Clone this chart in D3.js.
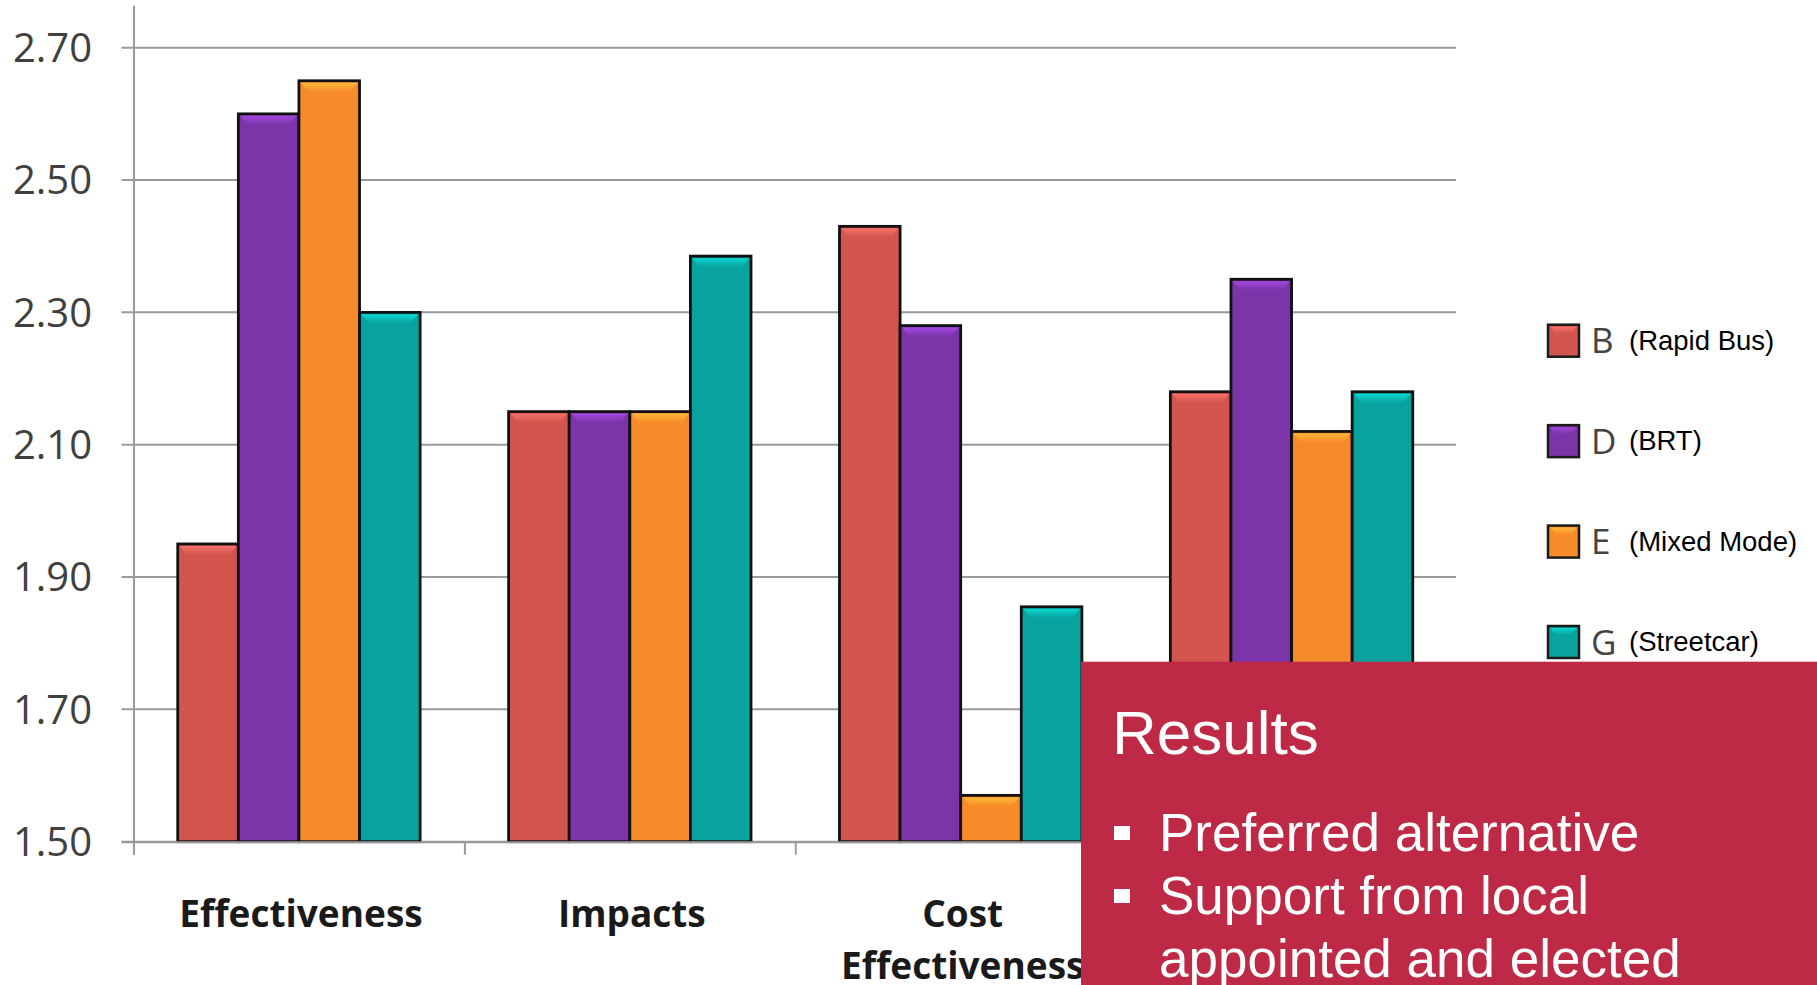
<!DOCTYPE html>
<html>
<head>
<meta charset="utf-8">
<script src="https://cdn.jsdelivr.net/npm/d3@7"></script>
<style>
  html, body { margin: 0; padding: 0; background: #ffffff; overflow: hidden; }
  svg { display: block; }
</style>
</head>
<body>
<svg id="chart" width="1817" height="985"></svg>
<script>
// ---- data ----
const categories = ["Effectiveness", "Impacts", "Cost Effectiveness", "Feasibility"];
const seriesKeys = ["B", "D", "E", "G"];
const seriesNames = ["(Rapid Bus)", "(BRT)", "(Mixed Mode)", "(Streetcar)"];
const valuesB = [1.95, 2.15, 2.43, 2.18];
const valuesD = [2.60, 2.15, 2.28, 2.35];
const valuesE = [2.65, 2.15, 1.57, 2.12];
const valuesG = [2.30, 2.385, 1.855, 2.18];
const yTicks = [1.50, 1.70, 1.90, 2.10, 2.30, 2.50, 2.70];
const seriesColors = ["#D2554F", "#7B35A8", "#F78B2A", "#08A39E"];
const boxTitle = "Results";
const boxBullets = [["Preferred alternative"], ["Support from local", "appointed and elected"]];

const seriesValues = [valuesB, valuesD, valuesE, valuesG];

const svg = d3.select("#chart");

// ---- scales ----
const x0 = d3.scaleBand().domain(categories).range([133.5, 1457]).paddingInner(0).paddingOuter(0);
const x1 = d3.scaleBand().domain(seriesKeys).range([0, x0.bandwidth()]).paddingInner(0).paddingOuter(0.73);
const y = d3.scaleLinear().domain([1.5, 2.7]).range([841.7, 47.7]);

// ---- gridlines ----
const grid = svg.append("g");
grid.selectAll("line").data(yTicks).join("line")
  .attr("x1", 121.5).attr("x2", 1456)
  .attr("y1", d => y(d)).attr("y2", d => y(d))
  .attr("stroke", "#9a9a9a").attr("stroke-width", 2);

// y tick labels
svg.append("g").selectAll("text").data(yTicks).join("text")
  .attr("x", 92).attr("y", d => y(d)).attr("dy", "0.36em")
  .attr("text-anchor", "end")
  .attr("font-family", "'Open Sans', sans-serif")
  .attr("font-size", 40).attr("fill", "#404040")
  .text(d => d3.format(".2f")(d));

// y axis line
svg.append("line")
  .attr("x1", x0.range()[0] + 0.5).attr("x2", x0.range()[0] + 0.5)
  .attr("y1", y(2.7) - 42).attr("y2", y(1.5) + 13)
  .attr("stroke", "#9a9a9a").attr("stroke-width", 2);

// x axis ticks at band boundaries
svg.append("g").selectAll("line").data(categories).join("line")
  .attr("x1", d => x0(d) + 0.5).attr("x2", d => x0(d) + 0.5)
  .attr("y1", y(1.5)).attr("y2", y(1.5) + 13)
  .attr("stroke", "#9a9a9a").attr("stroke-width", 2);

// ---- bars ----
const defs = svg.append("defs");
seriesColors.forEach((c, i) => {
  const g = defs.append("linearGradient").attr("id", "hl" + i)
    .attr("x1", 0).attr("x2", 0).attr("y1", 0).attr("y2", 1);
  g.append("stop").attr("offset", "0%").attr("stop-color", d3.color(c).brighter(0.9)).attr("stop-opacity", 1);
  g.append("stop").attr("offset", "100%").attr("stop-color", c).attr("stop-opacity", 1);
});

const barData = [];
categories.forEach((cat, ci) => {
  seriesKeys.forEach((k, si) => {
    barData.push({ cat, key: k, si, value: seriesValues[si][ci] });
  });
});

const bars = svg.append("g");
bars.selectAll("rect.bar").data(barData).join("rect")
  .attr("class", "bar")
  .attr("x", d => x0(d.cat) + x1(d.key))
  .attr("y", d => y(d.value))
  .attr("width", x1.bandwidth())
  .attr("height", d => y(1.5) - y(d.value))
  .attr("fill", d => seriesColors[d.si])
  .attr("stroke", "#111").attr("stroke-width", 2.8);

// top bevel highlight
bars.selectAll("path.bevel").data(barData).join("path")
  .attr("class", "bevel")
  .attr("d", d => {
    const bx = x0(d.cat) + x1(d.key), by = y(d.value), w = x1.bandwidth();
    return `M${bx + 2},${by + 2} L${bx + w - 2},${by + 2} L${bx + w - 9},${by + 11} L${bx + 9},${by + 11} Z`;
  })
  .attr("fill", d => `url(#hl${d.si})`).attr("opacity", 0.85);

// x axis line
svg.append("line")
  .attr("x1", 121.5).attr("x2", 1456)
  .attr("y1", y(1.5) + 0.5).attr("y2", y(1.5) + 0.5)
  .attr("stroke", "#9a9a9a").attr("stroke-width", 2);

// x labels
svg.append("g").selectAll("text").data(categories).join("text")
  .attr("x", d => x0(d) + x0.bandwidth() / 2 + 2)
  .attr("y", 927)
  .attr("text-anchor", "middle")
  .attr("font-family", "'Open Sans', sans-serif")
  .attr("font-weight", 700).attr("font-size", 37).attr("fill", "#1a1a1a")
  .each(function(d) {
    const words = d.split(" ");
    const t = d3.select(this);
    if (words.length > 1) {
      words.forEach((w, i) => {
        t.append("tspan").attr("x", x0(d) + x0.bandwidth() / 2 + 2).attr("dy", i === 0 ? 0 : 52).text(w);
      });
    } else {
      t.text(d);
    }
  });

// ---- legend ----
const legendRowY = d3.scalePoint().domain(seriesKeys).range([340.7, 642]);
const leg = svg.append("g");
const rows = leg.selectAll("g").data(seriesKeys).join("g")
  .attr("transform", d => `translate(0,${legendRowY(d)})`);
rows.append("rect")
  .attr("x", 1548).attr("y", -16).attr("width", 31).attr("height", 32)
  .attr("fill", (d, i) => seriesColors[i])
  .attr("stroke", "#1a1a1a").attr("stroke-width", 2.5);
rows.append("path")
  .attr("d", "M1550,-14 L1577,-14 L1571,-7 L1556,-7 Z")
  .attr("fill", (d, i) => `url(#hl${i})`).attr("opacity", 0.85);
rows.append("text")
  .attr("x", 1591).attr("y", 12.5)
  .attr("font-family", "'Open Sans', sans-serif").attr("font-weight", 400)
  .attr("font-size", 35).attr("fill", "#444444")
  .text(d => d);
rows.append("text")
  .attr("x", 1629).attr("y", 9.3)
  .attr("font-family", "'Liberation Sans', Arial, sans-serif")
  .attr("font-size", 27.5).attr("fill", "#000")
  .text((d, i) => seriesNames[i]);

// ---- overlay box ----
const box = svg.append("g");
box.append("rect")
  .attr("x", 1081).attr("y", 661.7).attr("width", 1817 - 1081).attr("height", 985 - 661.7)
  .attr("fill", "#BE2945");
box.append("text")
  .attr("x", 1112).attr("y", 754)
  .attr("font-family", "'Liberation Sans', Arial, sans-serif")
  .attr("font-size", 62).attr("fill", "#ffffff")
  .text(boxTitle);
let lineIdx = 0;
boxBullets.forEach(item => {
  item.forEach((ln, j) => {
    const base = 851 + lineIdx * 63;
    if (j === 0) {
      box.append("rect").attr("x", 1114).attr("y", base - 25).attr("width", 16).attr("height", 14).attr("fill", "#ffffff");
    }
    box.append("text")
      .attr("x", 1159).attr("y", base)
      .attr("font-family", "'Liberation Sans', Arial, sans-serif")
      .attr("font-size", 53).attr("fill", "#ffffff")
      .text(ln);
    lineIdx++;
  });
});
</script>
</body>
</html>
